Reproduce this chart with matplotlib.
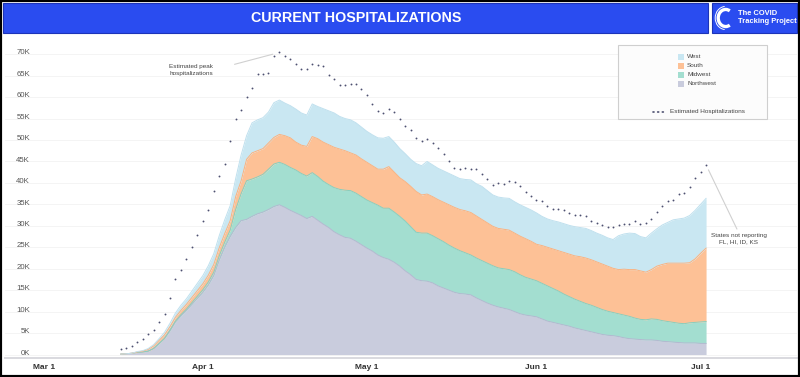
import numpy as np
import matplotlib
matplotlib.use("Agg")
import matplotlib.pyplot as plt
import matplotlib.dates as mdates
import matplotlib.transforms as mtransforms
from matplotlib.patches import Rectangle, Arc
from matplotlib.lines import Line2D

# ---------------- data (thousands of people) ----------------
start_date = "2020-03-17"

# stacked levels (cumulative tops of each band)
northwest_level = [
    0.1, 0.2, 0.3, 0.5, 0.6, 0.8, 1.4, 2.5, 3.7, 5.5, 7.6, 9.0, 10.3, 11.7, 13.1, 14.5, 16.2, 18.4, 22.0, 25.0, 27.5,
    29.6, 31.2, 31.5, 32.2, 32.8, 33.2, 33.8, 34.5, 34.9, 34.3,
    33.6, 33.0, 32.4, 31.7, 32.2, 31.3, 30.4, 29.6, 28.6, 27.9,
    27.3, 27.1, 26.4, 25.6, 24.8, 24.1, 23.2, 22.6, 22.2, 21.5,
    20.6, 19.5, 18.6, 17.5, 17.2, 17.1, 16.7, 16.0, 15.5, 15.0,
    14.5, 14.2, 14.1, 13.9, 13.2, 12.6, 12.0, 11.5, 11.1, 10.8,
    10.5, 10.0, 9.5, 9.2, 9.0, 8.8, 8.3, 7.8, 7.5, 7.2,
    6.9, 6.6, 6.2, 5.9, 5.6, 5.3, 5.0, 4.7, 4.5, 4.4,
    4.2, 3.9, 3.7, 3.6, 3.5, 3.4, 3.4, 3.3, 3.1, 3.0,
    2.9, 2.8, 2.7, 2.7, 2.7, 2.6, 2.6,
]
midwest_level = [
    0.1, 0.2, 0.3, 0.5, 0.6, 0.8, 1.4, 2.6, 3.8, 5.7, 7.8, 9.3, 10.6, 12.1, 13.6, 15.1, 16.9, 19.2, 23.0, 26.2, 29.0,
    33.8, 37.5, 40.5, 40.9, 41.4, 42.0, 43.2, 44.4, 44.8, 44.3,
    43.6, 43.0, 42.2, 41.6, 42.4, 41.5, 40.4, 39.6, 38.9, 38.5,
    38.3, 38.2, 37.6, 36.8, 36.0, 35.4, 34.8, 34.1, 34.1, 33.2,
    32.2, 31.1, 29.8, 28.5, 28.3, 28.3, 27.7, 27.0, 26.3, 25.5,
    24.8, 24.2, 23.7, 23.2, 22.5, 21.9, 21.3, 20.7, 20.2, 20.0,
    19.8, 19.3, 18.6, 18.0, 17.6, 17.2, 16.6, 16.0, 15.4, 14.8,
    14.1, 13.5, 12.9, 12.4, 11.9, 11.5, 11.0, 10.5, 10.1, 9.8,
    9.5, 9.2, 8.9, 8.5, 8.2, 8.1, 8.3, 8.2, 7.9, 7.7,
    7.5, 7.3, 7.2, 7.4, 7.5, 7.6, 7.7,
]
south_level = [
    0.1, 0.2, 0.3, 0.6, 0.8, 1.2, 2.0, 3.3, 4.6, 6.5, 8.7, 10.3, 11.7, 13.3, 14.9, 16.5, 18.5, 21.0, 24.9, 28.2, 31.2,
    36.8, 40.5, 45.5, 47.0, 47.5, 48.0, 49.3, 50.6, 51.3, 51.0,
    50.5, 49.5, 48.8, 48.5, 50.8, 50.3, 49.5, 48.9, 48.3, 47.9,
    47.5, 47.0, 46.5, 45.6, 44.8, 44.0, 43.2, 43.2, 43.8, 42.5,
    41.2, 40.3, 39.2, 38.0, 37.2, 37.4, 36.8, 36.1, 35.5, 34.9,
    34.3, 33.8, 33.5, 33.1, 32.3, 31.5, 30.7, 29.9, 29.4, 29.2,
    29.0, 28.3, 27.6, 27.0, 26.4, 25.7, 25.4, 25.0, 24.6, 24.2,
    23.8, 23.4, 23.0, 22.8, 22.5, 22.1, 21.6, 21.1, 20.6, 20.1,
    19.8, 19.9, 19.8, 19.8, 19.5, 19.2, 19.8, 20.6, 21.0, 21.3,
    21.3, 21.3, 21.3, 21.4, 22.3, 23.6, 24.8,
]
west_level = [
    0.1, 0.2, 0.3, 0.7, 0.9, 1.4, 2.3, 3.7, 5.2, 7.3, 9.7, 11.5, 13.0, 14.8, 16.6, 18.4, 20.7, 23.5, 27.7, 31.4, 34.7,
    41.0, 46.5, 51.0, 54.0, 54.7, 55.2, 56.5, 58.7, 59.3, 58.6,
    58.0, 57.2, 56.3, 55.8, 58.4, 57.8, 57.3, 56.8, 56.3, 55.5,
    55.0, 54.7, 54.0, 53.0, 52.0, 51.2, 50.5, 50.4, 50.8, 49.5,
    48.0, 46.8, 45.5, 44.5, 44.0, 45.0, 44.2, 43.4, 42.8, 42.2,
    41.6, 41.0, 40.8, 40.7, 39.8, 39.2, 38.2, 37.2, 36.7, 36.5,
    36.4, 35.6, 34.9, 34.3, 33.7, 33.0, 32.2, 31.6, 31.2, 30.9,
    30.5, 30.1, 29.8, 29.6, 29.4, 28.9, 28.3, 27.8, 27.2, 26.8,
    27.7, 28.1, 28.3, 28.2, 27.5, 27.2, 28.3, 29.3, 30.2, 30.8,
    31.4, 31.6, 31.8, 32.4, 33.6, 35.0, 36.4,
]
estimated_hosp = [
    1.3, 1.6, 2.0, 2.9, 3.7, 4.7, 5.7, 7.6, 9.5, 13.2, 17.6, 19.8, 22.3, 25.1, 27.8, 31.1, 33.6, 38.2, 41.6, 44.5, 49.8, 54.8,
    57.0, 60.1, 62.2, 65.3, 65.4, 65.7, 69.6, 70.4, 69.5, 68.9, 67.7, 66.6, 66.5, 67.7, 67.4, 67.3, 65.2, 64.2, 62.9, 62.7,
    63.0, 63.1, 61.9, 60.5, 58.4,
    56.7, 56.3, 57.3, 56.6, 55.0, 53.3, 52.3, 50.5, 49.7, 50.2, 49.4, 48.1, 46.7, 45.1, 43.5, 43.3, 43.4, 43.2, 43.2, 42.0,
    40.9, 39.6, 39.9, 39.8, 40.5, 40.2, 39.3, 37.9, 37.0, 36.0,
    35.8, 34.7, 34.0, 34.0, 33.7, 32.9, 32.6, 32.6, 32.3, 31.2, 30.7, 30.2, 29.7, 29.8, 30.2, 30.5, 30.5, 31.1, 30.5, 30.6,
    31.7, 33.3, 34.6, 35.7, 36.0, 37.4, 37.7, 39.1, 41.2, 42.5, 44.2,
]
region_names = ["West", "South", "Midwest", "Northwest"]
y_ticks = [0, 5, 10, 15, 20, 25, 30, 35, 40, 45, 50, 55, 60, 65, 70]
x_tick_dates = ["2020-03-01", "2020-04-01", "2020-05-01", "2020-06-01", "2020-07-01"]
x_tick_labels = ["Mar 1", "Apr 1", "May 1", "Jun 1", "Jul 1"]
title = "CURRENT HOSPITALIZATIONS"
peak_note = "Estimated peak\nhospitalizations"
missing_note = "States not reporting\nFL, HI, ID, KS"

# ---------------- styles ----------------
plt.rcParams["font.family"] = ["Liberation Sans", "DejaVu Sans"]
colors = {"West": "#c9e7f2", "South": "#fdc196", "Midwest": "#a3ded0", "Northwest": "#c9ccdd"}
edges = {"West": "#bfe0ee", "South": "#fbb27f", "Midwest": "#87cfbf", "Northwest": "#b4b8d0"}
dot_color = "#4d5070"
blue = "#2a4cf0"

W, H = 800, 377
fig = plt.figure(figsize=(8, 3.77), dpi=100)
fig.patch.set_facecolor("white")


def fx(x):
    return x / W


def fy(y):
    return 1 - y / H


# plot axes (pixel box: x 5..797, y 40..358)
ax = fig.add_axes([fx(5), fy(358), fx(797) - fx(5), fy(40) - fy(358)])
ax.set_facecolor("white")

dates = np.datetime64(start_date) + np.arange(len(west_level))
levels = [np.array(northwest_level), np.array(midwest_level), np.array(south_level), np.array(west_level)]
order = ["Northwest", "Midwest", "South", "West"]
lower = np.zeros(len(dates))
for name, top in zip(order, levels):
    ax.fill_between(dates, lower, top, color=colors[name], lw=0, zorder=2)
    ax.plot(dates, top, color=edges[name], lw=0.7, zorder=3)
    lower = top

ax.plot(dates, estimated_hosp, ls="none", marker="o", ms=1.35, mew=0, color=dot_color, zorder=4)

x0 = mdates.date2num(np.datetime64("2020-02-24T20:00"))
x1 = mdates.date2num(np.datetime64("2020-07-18T15:00"))
ax.set_xlim(x0, x1)
ax.set_ylim(-0.8, 73.3)

for v in y_ticks:
    ax.axhline(v, color="#f3f3f3", lw=0.6, zorder=1)

for s in ["top", "right", "left"]:
    ax.spines[s].set_visible(False)
ax.spines["bottom"].set_color("#d9d9df")
ax.spines["bottom"].set_linewidth(1.4)
ax.set_yticks([])
ax.set_xticks([mdates.date2num(np.datetime64(d)) for d in x_tick_dates])
ax.set_xticklabels(x_tick_labels, fontsize=6, color="#333333", fontweight="bold")
ax.tick_params(axis="x", length=0, pad=4)
ax.get_xticklabels()[0].set_ha("left")

ytrans = mtransforms.blended_transform_factory(ax.transAxes, ax.transData)
for v in y_ticks:
    ax.text((30 - 5) / 792, v + 0.3, f"{v}K", transform=ytrans, ha="right", va="center",
            fontsize=5.6, color="#555555", zorder=5)

# annotations
peak_i = int(np.argmax(estimated_hosp))
ax.annotate(peak_note, xy=(dates[peak_i], estimated_hosp[peak_i]),
            xytext=(mdates.date2num(np.datetime64("2020-03-25T20:00")), 66.3), textcoords="data",
            fontsize=4.6, color="#444444", ha="left", va="center", linespacing=1.3,
            arrowprops=dict(arrowstyle="-", color="#d0d0d0", lw=0.8, relpos=(1, 0.5),
                            shrinkA=14, shrinkB=5))
ax.annotate(missing_note, xy=(dates[-1], estimated_hosp[-1]),
            xytext=(mdates.date2num(np.datetime64("2020-07-08")), 27.0), textcoords="data",
            fontsize=4.6, color="#444444", ha="center", va="center", linespacing=1.3,
            arrowprops=dict(arrowstyle="-", color="#d0d0d0", lw=0.8, relpos=(0.5, 1),
                            shrinkA=1, shrinkB=4))

# legend (drawn manually)
fig.patches.append(Rectangle((fx(618), fy(119)), fx(767) - fx(618), fy(45) - fy(119),
                             transform=fig.transFigure, fc="#fcfcfc", ec="#cfcfcf", lw=0.8, zorder=5))
for k, name in enumerate(region_names):
    yy = 56.7 + 9 * k
    fig.patches.append(Rectangle((fx(678), fy(yy + 3)), fx(6), fx(6) * W / H,
                                 transform=fig.transFigure, fc=colors[name], ec="none", zorder=6))
    fig.text(fx(687), fy(yy), name, fontsize=4.6, color="#444444", va="center", ha="left", zorder=7)
fig.lines.append(Line2D([fx(653), fx(667)], [fy(111.7), fy(111.7)], transform=fig.transFigure,
                        ls=(0, (0.6, 2.2)), lw=1.2, color=dot_color, dash_capstyle="round", zorder=7))
fig.text(fx(670), fy(111.7), "Estimated Hospitalizations", fontsize=4.6, color="#444444",
         va="center", ha="left", zorder=7)

# header
fig.patches.append(Rectangle((fx(3), fy(33)), fx(705), fy(3) - fy(33), transform=fig.transFigure,
                             fc=blue, ec="#1c34b8", lw=0.8, zorder=5))
fig.patches.append(Rectangle((fx(712), fy(33)), fx(85), fy(3) - fy(33), transform=fig.transFigure,
                             fc=blue, ec="#1c34b8", lw=0.8, zorder=5))
fig.text(fx(356), fy(18), title, fontsize=10.3, fontweight="bold", color="white",
         ha="center", va="center", zorder=6)
logo_ax = fig.add_axes([fx(713), fy(32), fx(22), fy(4) - fy(32)])
logo_ax.set_zorder(8)
logo_ax.patch.set_visible(False)
logo_ax.set_xlim(-1, 1)
logo_ax.set_ylim(-1.27, 1.27)
logo_ax.axis("off")
logo_ax.add_patch(Arc((0.15, 0), 1.35, 1.55, theta1=60, theta2=300, color="white", lw=2.4))
logo_ax.add_patch(Arc((0.15, 0), 1.9, 2.1, theta1=95, theta2=265, color="white", lw=0.7))
fig.text(fx(738), fy(17.5), "The COVID\nTracking Project", fontsize=5.4, fontweight="bold",
         color="white", ha="left", va="center", linespacing=1.05, zorder=9)

# outer frame
fig.patches.append(Rectangle((0, 0), 1, 1, transform=fig.transFigure, fill=False,
                             ec="black", lw=3, zorder=10))

fig.savefig("out.png", dpi=100)
